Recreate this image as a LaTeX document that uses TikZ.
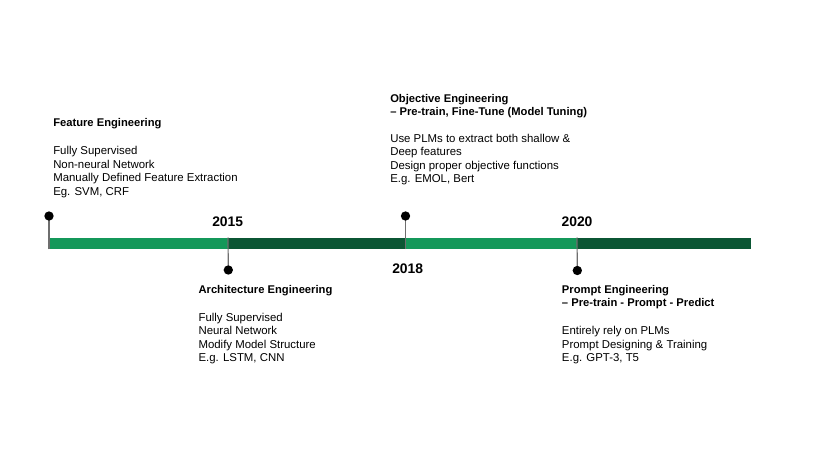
\documentclass[tikz,border=0pt]{standalone}
\usepackage{fontspec}
\setmainfont{Liberation Sans}
\definecolor{lightgreen}{HTML}{14985A}
\definecolor{darkgreen}{HTML}{0B5634}
\definecolor{pingray}{HTML}{6E6E6E}
\begin{document}
\begin{tikzpicture}[x=0.75pt,y=-0.75pt,
  bodytxt/.style={anchor=base west,inner sep=0pt,font=\fontsize{8.55pt}{10pt}\selectfont},
  titletxt/.style={anchor=base west,inner sep=0pt,font=\fontsize{8.4pt}{10pt}\selectfont\bfseries},
  yeartxt/.style={anchor=base,inner sep=0pt,font=\fontsize{10.4pt}{12pt}\selectfont\bfseries},
  pinline/.style={draw=pingray,line width=0.9pt},
  pindot/.style={circle,fill=black,inner sep=0pt,minimum size=7pt}]
\useasboundingbox (0,0) rectangle (830,467);
% bar segments
\fill[lightgreen] (49,237.5) rectangle (228,249.3);
\fill[darkgreen] (228,237.5) rectangle (405.5,249.3);
\fill[lightgreen] (405.5,237.5) rectangle (577,249.3);
\fill[darkgreen] (577,237.5) rectangle (751,249.3);
% pins
\coordinate (b1) at (49,249.3);
\coordinate (b2) at (228,237.5);
\coordinate (b3) at (405.5,249.3);
\coordinate (b4) at (577,237.5);
\draw[pinline] (b1) -- (49,216);
\draw[pinline] (b2) -- (228.3,270);
\draw[pinline] (b3) -- (405.5,216);
\draw[pinline] (b4) -- (577.3,270.5);
\node[pindot] (d1) at (49,216) {};
\node[pindot] (d2) at (228.3,270) {};
\node[pindot] (d3) at (405.5,216) {};
\node[pindot] (d4) at (577.3,270.5) {};
% years
\node[yeartxt] (y1) at (227.7,226) {2015};
\node[yeartxt] (y2) at (407.7,273.3) {2018};
\node[yeartxt] (y3) at (577,226) {2020};
% Feature Engineering
\node[titletxt] (f0) at (53,126.5) {Feature Engineering};
\node[bodytxt] (f1) at (53,154.5) {Fully Supervised};
\node[bodytxt] (f2) at (53,168) {Non-neural Network};
\node[bodytxt] (f3) at (53,181.5) {Manually Defined Feature Extraction};
\node[bodytxt] (f4) at (53,195) {Eg. SVM, CRF};
% Objective Engineering
\node[titletxt] (o0) at (390,102.3) {Objective Engineering};
\node[titletxt] (o1) at (390,115.5) {– Pre-train, Fine-Tune (Model Tuning)};
\node[bodytxt] (o2) at (390,142.3) {Use PLMs to extract both shallow \&};
\node[bodytxt] (o3) at (390,155.7) {Deep features};
\node[bodytxt] (o4) at (390,169.1) {Design proper objective functions};
\node[bodytxt] (o5) at (390,182.5) {E.g. EMOL, Bert};
% Architecture Engineering
\node[titletxt] (a0) at (198.3,293.3) {Architecture Engineering};
\node[bodytxt] (a1) at (198.3,321.3) {Fully Supervised};
\node[bodytxt] (a2) at (198.3,334.8) {Neural Network};
\node[bodytxt] (a3) at (198.3,348.3) {Modify Model Structure};
\node[bodytxt] (a4) at (198.3,361.8) {E.g. LSTM, CNN};
% Prompt Engineering
\node[titletxt] (p0) at (561.7,293.3) {Prompt Engineering};
\node[titletxt] (p1) at (561.7,306.7) {– Pre-train - Prompt - Predict};
\node[bodytxt] (p2) at (561.7,334.8) {Entirely rely on PLMs};
\node[bodytxt] (p3) at (561.7,348.3) {Prompt Designing \& Training};
\node[bodytxt] (p4) at (561.7,361.8) {E.g. GPT-3, T5};
\end{tikzpicture}
\end{document}
